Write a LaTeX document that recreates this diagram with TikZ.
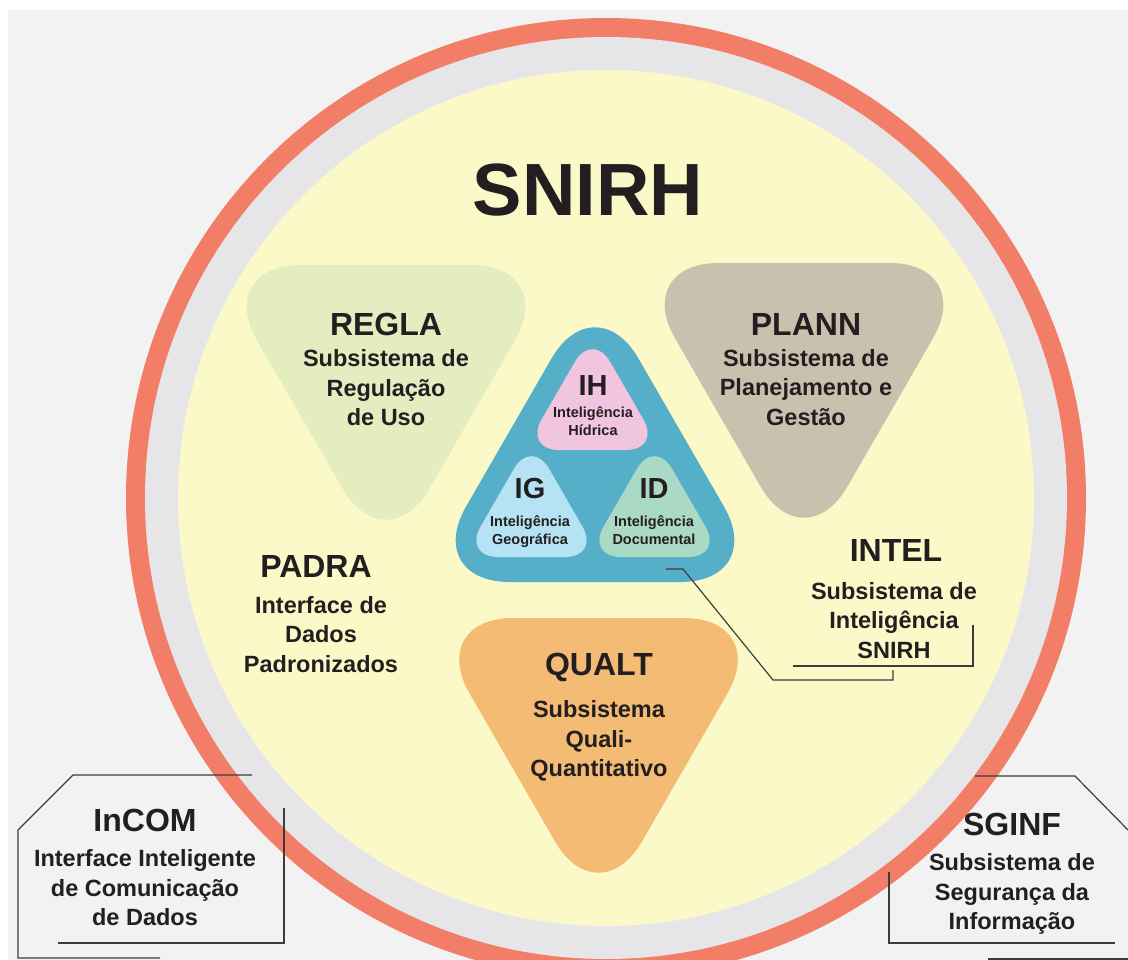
\documentclass[tikz,border=0pt]{standalone}
\usepackage{fontspec}
\setmainfont{Liberation Sans}
\usetikzlibrary{positioning}

\definecolor{panel}{HTML}{F2F2F2}
\definecolor{ringred}{HTML}{F37E68}
\definecolor{ringgray}{HTML}{E6E6E8}
\definecolor{core}{HTML}{FCF9C9}
\definecolor{regla}{HTML}{E3EDC0}
\definecolor{plann}{HTML}{C9C1AE}
\definecolor{qualt}{HTML}{F4BB74}
\definecolor{intel}{HTML}{56AFC8}
\definecolor{ihcol}{HTML}{F1C5DF}
\definecolor{igcol}{HTML}{B6E3F4}
\definecolor{idcol}{HTML}{AAD9C5}
\definecolor{ink}{HTML}{231F20}
\definecolor{wire}{HTML}{3C3C3C}

\begin{document}
\begin{tikzpicture}[x=1pt, y=-1pt,
  head/.style={font=\bfseries\fontsize{32}{36}\selectfont, text=ink, inner sep=0pt},
  body/.style={font=\bfseries\fontsize{23.5}{29.5}\selectfont, align=center, text=ink, inner sep=0pt},
  minihead/.style={font=\bfseries\fontsize{29}{32}\selectfont, text=ink, inner sep=0pt},
  minibody/.style={font=\bfseries\fontsize{14.5}{18}\selectfont, align=center, text=ink, inner sep=0pt},
  wireline/.style={draw=wire, line width=1.2pt}]

  \useasboundingbox (0,0) rectangle (1128,960);
  % Background panel
  \fill[panel] (8,10) rectangle (1128,960);

  % --- Rings ---
  \fill[ringred]  (606,498) circle (480pt);
  \fill[ringgray] (606,498) circle (461pt);
  \fill[core]     (606,498) circle (428pt);

  % --- Subsystem triangles (point down) ---
  \foreach \cx/\yt/\col in {386/265/regla, 804/263/plann, 598.5/618/qualt}
    \fill[\col, rounded corners=87pt] (\cx,\yt) -- (\cx+172.5,\yt)
      -- (\cx,\yt+298.8) -- (\cx-172.5,\yt) -- cycle;

  % --- Intelligence triangle (point up) ---
  \fill[intel, rounded corners=87pt] (595,582) -- (595+172.5,582)
    -- (595,582-298.8) -- (595-172.5,582) -- cycle;
  \foreach \cx/\yb/\col in {592.5/450/ihcol, 531.5/557/igcol, 654.5/557/idcol}
    \fill[\col, rounded corners=35pt] (\cx,\yb) -- (\cx+68.5,\yb)
      -- (\cx,\yb-118.6) -- (\cx-68.5,\yb) -- cycle;

  % --- Labels ---
  \node[font=\bfseries\fontsize{74}{80}\selectfont, text=ink, inner sep=0pt] (snirh) at (588,190) {SNIRH};

  \node[head] (reglahd) at (386,324) {REGLA};
  \node[body, below=14pt of reglahd] (reglatx) {Subsistema de\\Regulação\\de Uso};

  \node[head] (plannhd) at (806,324) {PLANN};
  \node[body, below=14pt of plannhd] (planntx) {Subsistema de\\Planejamento e\\Gestão};

  \node[head] (padrahd) at (316,566) {PADRA};
  \node[body, below=19pt of padrahd, xshift=5pt] (padratx) {Interface de\\Dados\\Padronizados};

  \node[head] (intelhd) at (896,550) {INTEL};
  \node[body, below=21pt of intelhd, xshift=-2pt] (inteltx) {Subsistema de\\Inteligência\\SNIRH};

  \node[head] (qualthd) at (599,667) {QUALT};
  \node[body, below=19pt of qualthd] (qualttx) {Subsistema\\Quali-\\Quantitativo};

  \node[head] (incomhd) at (145,820) {InCOM};
  \node[body, below=18pt of incomhd] (incomtx) {Interface Inteligente\\de Comunicação\\de Dados};

  \node[head] (sginfhd) at (1012,824) {SGINF};
  \node[body, below=18pt of sginfhd] (sginftx) {Subsistema de\\Segurança da\\Informação};

  \node[minihead] (ihhd) at (593,386) {IH};
  \node[minibody, below=10.4pt of ihhd] (ihtx) {Inteligência\\Hídrica};
  \node[minihead] (ighd) at (530,489) {IG};
  \node[minibody, below=16.4pt of ighd] (igtx) {Inteligência\\Geográfica};
  \node[minihead] (idhd) at (654,489) {ID};
  \node[minibody, below=16.4pt of idhd] (idtx) {Inteligência\\Documental};

  % --- Leader lines ---
  \coordinate (idfoot) at (666,569);
  \coordinate (intelfoot) at (893,670);
  \draw[wireline] (idfoot) -- (683,569) -- (773,680) -- (893,680) -- (intelfoot);
  \draw[wireline] (793,666) -- (973,666) -- (973,625);

  % InCOM frame
  \draw[wireline] (252,775) -- (73,775) -- (18,830) -- (18,958) -- (160,958);
  \draw[wireline] (284,808) -- (284,943) -- (58,943);

  % SGINF frame
  \draw[wireline] (975,776) -- (1075,776) -- (1128,830);
  \draw[wireline] (889,872) -- (889,943) -- (1115,943);
  \draw[wireline] (988,959) -- (1128,959);

\end{tikzpicture}
\end{document}
